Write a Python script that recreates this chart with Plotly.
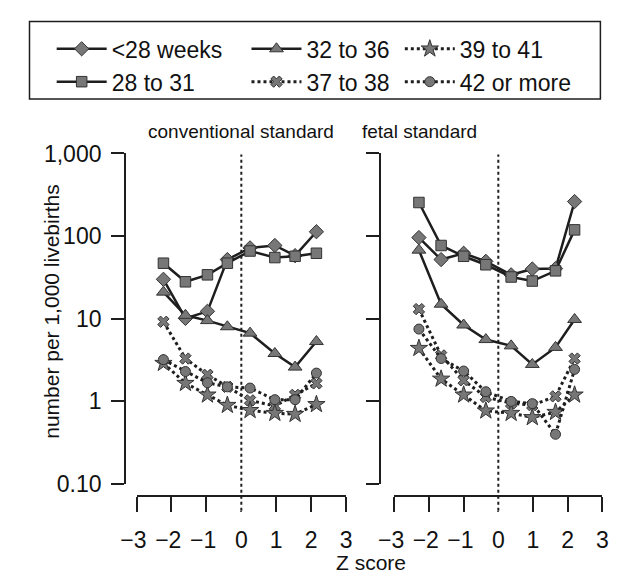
import plotly.graph_objects as go

W, H = 617, 584

# ---- data ----
z_conv = [-2.23, -1.6, -0.97, -0.4, 0.25, 0.96, 1.54, 2.15]
z_fetal = [-2.29, -1.65, -1.0, -0.36, 0.37, 0.98, 1.65, 2.2]

series_names = ["<28 weeks", "28 to 31", "32 to 36", "37 to 38", "39 to 41", "42 or more"]

conv_lt28 = [30, 10.1, 12.3, 52, 72, 77, 58, 113]
conv_28_31 = [47, 28, 34, 47, 66, 55, 57, 62]
conv_32_36 = [21, 11, 9.5, 8.0, 6.7, 3.8, 2.6, 5.3]
conv_37_38 = [9.2, 3.3, 2.1, 1.5, 1.03, 0.88, 1.2, 1.65]
conv_39_41 = [2.9, 1.66, 1.2, 0.9, 0.78, 0.72, 0.70, 0.92]
conv_42 = [3.2, 2.3, 1.68, 1.5, 1.45, 1.05, 1.05, 2.2]

fetal_lt28 = [96, 52, 62, 49.5, 34, 40, 40.5, 262]
fetal_28_31 = [255, 77, 57, 45, 32, 28.6, 38, 119]
fetal_32_36 = [67.6, 15, 8.4, 5.6, 4.7, 2.8, 4.5, 9.8]
fetal_37_38 = [13.1, 3.6, 1.8, 1.13, 0.95, 0.9, 1.15, 3.3]
fetal_39_41 = [4.4, 1.87, 1.2, 0.77, 0.72, 0.64, 0.74, 1.2]
fetal_42 = [7.5, 3.3, 2.33, 1.31, 1.0, 0.94, 0.40, 2.44]

y_tickvals = [0.1, 1, 10, 100, 1000]
y_ticktext = ["0.10", "1", "10", "100", "1,000"]
x_tickvals = [-3, -2, -1, 0, 1, 2, 3]
# a narrow trailing space moves the digit of negative labels closer to the tick
x_ticktext = ["\u22123\u2008", "\u22122\u2008", "\u22121\u2008", "0", "1", "2", "3"]

conv_values = [conv_lt28, conv_28_31, conv_32_36, conv_37_38, conv_39_41, conv_42]
fetal_values = [fetal_lt28, fetal_28_31, fetal_32_36, fetal_37_38, fetal_39_41, fetal_42]

# ---- styles ----
FONT = "Liberation Sans, Arial, sans-serif"
LINE = "#1e1e1e"
FILL = "#777777"
TXT = "#111111"
symbols = ["diamond", "square", "triangle-up", "x", "star", "circle"]
sizes = [11, 10.5, 12, 10, 13, 10]
dashes = ["solid", "solid", "solid", "dot", "dot", "dot"]
legends = ["legend", "legend", "legend2", "legend2", "legend3", "legend3"]

def px(x):
    return x / W

def py(y):
    return 1 - y / H

fig = go.Figure()

for panel, (zs, vals, xa, ya) in enumerate([(z_conv, conv_values, "x", "y"),
                                            (z_fetal, fetal_values, "x2", "y2")]):
    for i in [3, 4, 5, 0, 1, 2]:
        fig.add_trace(go.Scatter(
            x=zs, y=vals[i], xaxis=xa, yaxis=ya,
            name=series_names[i], legendgroup=series_names[i],
            legend=legends[i], showlegend=(panel == 0), legendrank=i,
            mode="lines+markers", cliponaxis=False,
            line=dict(color=LINE, width=3 if dashes[i] == "dot" else 2.5, dash=dashes[i]),
            marker=dict(symbol=symbols[i], size=sizes[i], color=FILL,
                        line=dict(color="#333333", width=1)),
        ))

ydom = [py(493), py(147)]
axis_common = dict(showgrid=False, zeroline=False, showline=True, linecolor=LINE,
                   linewidth=1.8, ticks="outside", tickcolor=LINE, tickwidth=1.8)
xtick_font = dict(family=FONT, size=23, color=TXT)
ytick_font = dict(family=FONT, size=23, color=TXT)

fig.update_layout(
    width=W, height=H, margin=dict(l=0, r=0, t=0, b=0),
    paper_bgcolor="white", plot_bgcolor="white",
    font=dict(family=FONT, size=20, color=TXT),
    xaxis=dict(domain=[px(125), px(342.3)], range=[-3, 3], anchor="free",
               position=py(505.5), tickvals=x_tickvals, ticktext=x_ticktext,
               tickangle=0, ticklen=15, ticklabelstandoff=9, tickfont=xtick_font,
               **axis_common),
    xaxis2=dict(domain=[px(392.3), px(608)], range=[-3, 3], anchor="free",
                position=py(505.5), tickvals=x_tickvals, ticktext=x_ticktext,
                tickangle=0, ticklen=15, ticklabelstandoff=9, tickfont=xtick_font,
                **axis_common),
    yaxis=dict(domain=ydom, type="log", range=[-1, 3], anchor="free", position=px(113),
               tickvals=y_tickvals, ticktext=y_ticktext, ticklen=13,
               ticklabelstandoff=5, tickfont=ytick_font, **axis_common),
    yaxis2=dict(domain=ydom, type="log", range=[-1, 3], anchor="free", position=px(377),
                tickvals=y_tickvals, showticklabels=False, ticklen=13, **axis_common),
)

leg_common = dict(orientation="v", bgcolor="rgba(0,0,0,0)", borderwidth=0,
                  font=dict(family=FONT, size=23, color=TXT),
                  itemwidth=50, tracegroupgap=0, xanchor="left", yanchor="top",
                  traceorder="grouped", itemclick=False, itemdoubleclick=False)
fig.update_layout(
    legend=dict(x=px(37), y=py(15), **leg_common),
    legend2=dict(x=px(239), y=py(15), **leg_common),
    legend3=dict(x=px(398), y=py(15), **leg_common),
)

# legend frame
fig.add_shape(type="rect", xref="paper", yref="paper",
              x0=px(14), x1=px(606), y0=py(90), y1=py(9),
              line=dict(color=LINE, width=1.5), fillcolor="rgba(0,0,0,0)", layer="below")

# dotted reference lines at z = 0 (they replace the solid 0 tick)
for xr in ["x", "x2"]:
    fig.add_shape(type="rect", xref=xr, yref="paper", x0=-0.07, x1=0.07,
                  y0=py(521.5), y1=py(506.7), line=dict(width=0), fillcolor="white",
                  layer="above")
    fig.add_shape(type="line", xref=xr, yref="paper", x0=0, x1=0,
                  y0=py(521), y1=py(148), line=dict(color=LINE, width=2, dash="dot"),
                  layer="above")

# panel titles
fig.add_annotation(x=px(233), y=py(124), xref="paper", yref="paper",
                   text="conventional standard", showarrow=False, yanchor="middle",
                   font=dict(family=FONT, size=19, color=TXT))
fig.add_annotation(x=px(480), y=py(124), xref="paper", yref="paper",
                   text="fetal standard", showarrow=False, yanchor="middle",
                   font=dict(family=FONT, size=19, color=TXT))

# axis titles
fig.add_annotation(x=px(22), y=py(313), xref="paper", yref="paper",
                   text="number per 1,000 livebirths", showarrow=False, textangle=-90,
                   font=dict(family=FONT, size=21, color=TXT))
fig.add_annotation(x=px(368), y=py(575), xref="paper", yref="paper",
                   text="Z score", showarrow=False, yanchor="middle",
                   font=dict(family=FONT, size=21, color=TXT))

# the page's default body margin would shift the 617x584 figure; remove it
fig.write_html("out.html", config={"displayModeBar": False},
               post_script="document.body.style.margin='0';document.body.style.overflow='hidden';")
